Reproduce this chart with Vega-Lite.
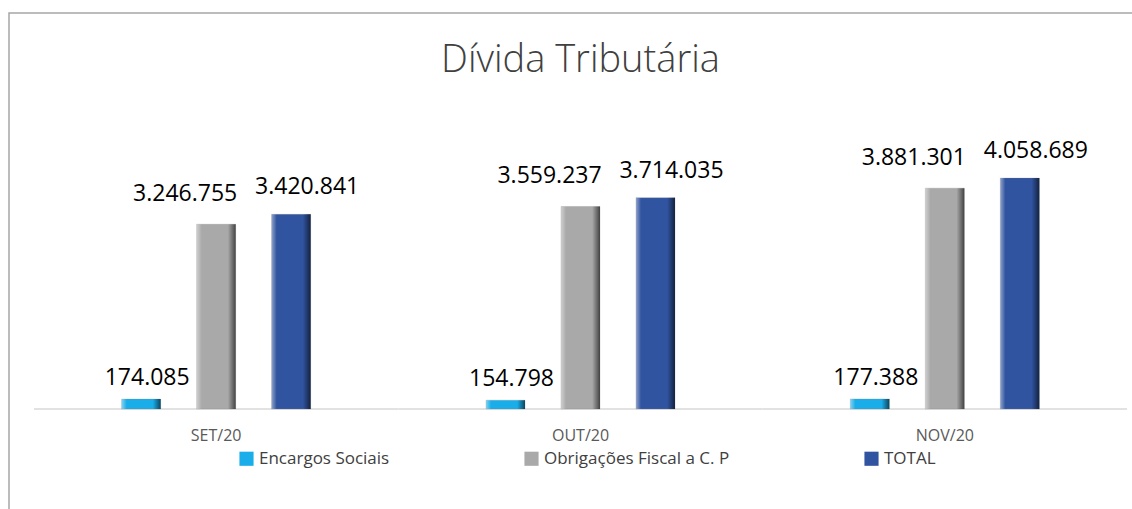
{
  "$schema": "https://vega.github.io/schema/vega-lite/v6.json",
  "width": 1143,
  "height": 499,
  "autosize": {"type": "none"},
  "padding": {"left": 9, "top": 13, "right": 0, "bottom": 0},
  "background": "white",
  "config": {
    "font": "Open Sans",
    "view": {"stroke": "#A6A6A6", "strokeWidth": 1.5},
    "locale": {"number": {"decimal": ",", "thousands": ".", "grouping": [3], "currency": ["R$", ""]}}
  },
  "title": {
    "text": "Dívida Tributária",
    "fontSize": 38,
    "fontWeight": 300,
    "color": "#404040",
    "anchor": "middle",
    "frame": "group",
    "baseline": "middle",
    "offset": -86
  },
  "data": {
    "values": [
      {"mes": "SET/20", "serie": "Encargos Sociais", "valor": 174085},
      {"mes": "SET/20", "serie": "Obrigações Fiscal a C. P", "valor": 3246755},
      {"mes": "SET/20", "serie": "TOTAL", "valor": 3420841},
      {"mes": "OUT/20", "serie": "Encargos Sociais", "valor": 154798},
      {"mes": "OUT/20", "serie": "Obrigações Fiscal a C. P", "valor": 3559237},
      {"mes": "OUT/20", "serie": "TOTAL", "valor": 3714035},
      {"mes": "NOV/20", "serie": "Encargos Sociais", "valor": 177388},
      {"mes": "NOV/20", "serie": "Obrigações Fiscal a C. P", "valor": 3881301},
      {"mes": "NOV/20", "serie": "TOTAL", "valor": 4058689}
    ]
  },
  "encoding": {
    "x": {
      "field": "mes",
      "type": "nominal",
      "sort": ["SET/20", "OUT/20", "NOV/20"],
      "scale": {"paddingInner": 0, "paddingOuter": 0.0686, "align": 0.5},
      "axis": {
        "title": null,
        "orient": "bottom",
        "offset": -103,
        "domain": false,
        "ticks": false,
        "grid": false,
        "labelAngle": 0,
        "labelFontSize": 16,
        "labelColor": "#595959",
        "labelPadding": 18,
        "labelFont": "Open Sans"
      }
    },
    "y": {
      "field": "valor",
      "type": "quantitative",
      "scale": {"domain": [-1810000, 6960000], "nice": false, "zero": false},
      "axis": null
    }
  },
  "layer": [
    {
      "transform": [{"filter": "datum.serie === 'TOTAL'"}],
      "mark": {"type": "bar", "fill": null, "stroke": "#D9D9D9", "strokeWidth": 1.5},
      "encoding": {
        "y": {"datum": 0, "type": "quantitative"}
      }
    },
    {
      "mark": {"type": "bar", "width": 39, "stroke": "#7F7F7F", "strokeWidth": 0.5, "strokeOpacity": 0.5},
      "encoding": {
        "xOffset": {
          "field": "serie",
          "type": "nominal",
          "scale": {"paddingInner": 0.142, "paddingOuter": 1}
        },
        "color": {
          "field": "serie",
          "type": "nominal",
          "scale": {
            "domain": ["Encargos Sociais", "Obrigações Fiscal a C. P", "TOTAL"],
            "range": ["#19ADEA", "#A9A9A9", "#3154A0"]
          },
          "legend": {
            "title": null,
            "orient": "none",
            "legendX": 229,
            "legendY": 437,
            "direction": "horizontal",
            "symbolType": "square",
            "symbolSize": 200,
            "symbolStrokeWidth": 0,
            "labelFontSize": 17,
            "labelColor": "#404040",
            "labelFont": "Open Sans",
            "labelOffset": 4,
            "columnPadding": 133,
            "labelLimit": 400
          }
        }
      }
    },
    {
      "mark": {
        "type": "bar",
        "width": 39,
        "fill": {"gradient": "linear", "x1": 0, "x2": 1, "y1": 0, "y2": 0, "stops": [
          {"offset": 0, "color": "rgba(255,255,255,0.45)"},
          {"offset": 0.13, "color": "rgba(255,255,255,0)"},
          {"offset": 0.8, "color": "rgba(0,0,0,0)"},
          {"offset": 1, "color": "rgba(0,0,0,0.6)"}]}
      },
      "encoding": {
        "xOffset": {"field": "serie", "type": "nominal", "scale": {"paddingInner": 0.142, "paddingOuter": 1}}
      }
    },
    {
      "transform": [{"filter": "datum.serie === 'Encargos Sociais'"}],
      "mark": {"type": "text", "fontSize": 23, "color": "#000000", "baseline": "middle", "dx": 6, "dy": -21},
      "encoding": {
        "xOffset": {"field": "serie", "type": "nominal", "scale": {"paddingInner": 0.142, "paddingOuter": 1}},
        "text": {"field": "valor", "type": "quantitative", "format": ",d"}
      }
    },
    {
      "transform": [{"filter": "datum.serie === 'Obrigações Fiscal a C. P'"}],
      "mark": {"type": "text", "fontSize": 23, "color": "#000000", "baseline": "middle", "dx": -31, "dy": -30},
      "encoding": {
        "xOffset": {"field": "serie", "type": "nominal", "scale": {"paddingInner": 0.142, "paddingOuter": 1}},
        "text": {"field": "valor", "type": "quantitative", "format": ",d"}
      }
    },
    {
      "transform": [{"filter": "datum.serie === 'TOTAL'"}],
      "mark": {"type": "text", "fontSize": 23, "color": "#000000", "baseline": "middle", "dx": 16, "dy": -27},
      "encoding": {
        "xOffset": {"field": "serie", "type": "nominal", "scale": {"paddingInner": 0.142, "paddingOuter": 1}},
        "text": {"field": "valor", "type": "quantitative", "format": ",d"}
      }
    }
  ]
}
